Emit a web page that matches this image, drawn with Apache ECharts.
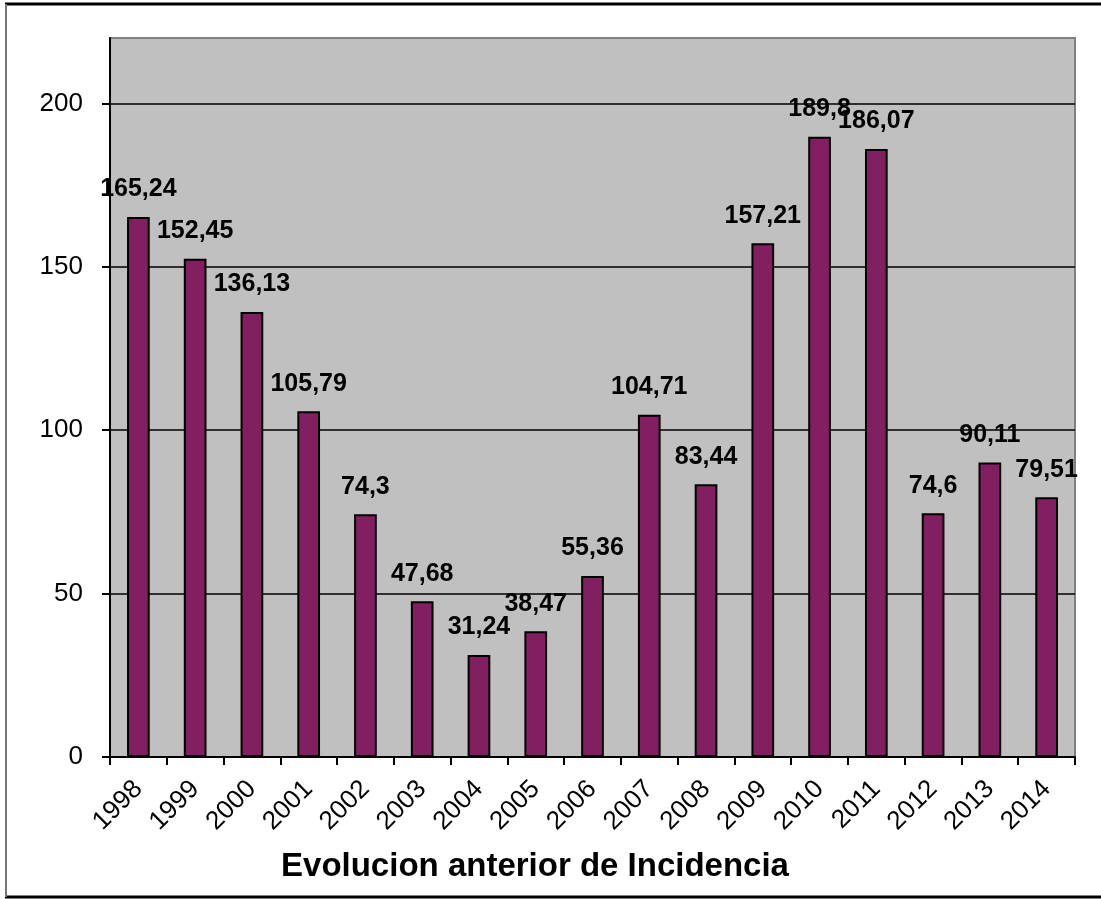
<!DOCTYPE html>
<html><head><meta charset="utf-8">
<script src="https://cdn.jsdelivr.net/npm/echarts@6/dist/echarts.min.js"></script>
<style>html,body{margin:0;padding:0;background:#fff}#c{width:1101px;height:899px}</style>
</head><body><div id="c"></div>
<script>
var categories = ['1998','1999','2000','2001','2002','2003','2004','2005','2006','2007','2008','2009','2010','2011','2012','2013','2014'];
var values = [165.24,152.45,136.13,105.79,74.3,47.68,31.24,38.47,55.36,104.71,83.44,157.21,189.8,186.07,74.6,90.11,79.51];
var valueLabels = ['165,24','152,45','136,13','105,79','74,3','47,68','31,24','38,47','55,36','104,71','83,44','157,21','189,8','186,07','74,6','90,11','79,51'];
var axisTitle = 'Evolucion anterior de Incidencia';

var FF = 'Liberation Sans, Arial, sans-serif';
var chart = echarts.init(document.getElementById('c'), null, {renderer:'canvas'});
chart.setOption({
  animation:false,
  backgroundColor:'#fff',
  textStyle:{fontFamily:FF},
  grid:{left:110, top:38, right:26, bottom:142, show:true, backgroundColor:'#c0c0c0', borderColor:'#808080', borderWidth:2},
  title:{text:axisTitle, left:530, top:845, textAlign:'center',
    textStyle:{fontFamily:FF, fontSize:33, fontWeight:'bold', color:'#000'}},
  xAxis:{type:'category', data:categories,
    axisLine:{lineStyle:{color:'#000', width:2}},
    axisTick:{show:true, length:8, lineStyle:{color:'#000', width:2}, alignWithLabel:false},
    axisLabel:{interval:0, rotate:45, fontSize:26, color:'#000', margin:28, fontFamily:FF}},
  yAxis:{type:'value', min:0, max:220, interval:50,
    axisLine:{show:true, lineStyle:{color:'#000', width:2}},
    axisTick:{show:true, length:8, lineStyle:{color:'#000', width:2}},
    axisLabel:{fontSize:26, color:'#000', margin:27, showMaxLabel:false, fontFamily:FF},
    splitLine:{show:true, lineStyle:{color:['#000','#000','#000','#000','#000','#808080'], width:1.5}}},
  series:[{type:'bar', data:values, barWidth:'40%',
    itemStyle:{color:'#821f60', borderColor:'#000', borderWidth:2},
    label:{show:true, position:'top', distance:15, fontSize:25, fontWeight:'bold', color:'#000',
      fontFamily:FF,
      formatter:function(p){return valueLabels[p.dataIndex];}}}],
  graphic:[
    {type:'line', shape:{x1:5,y1:4,x2:1101,y2:4}, style:{stroke:'#000', lineWidth:3}},
    {type:'line', shape:{x1:5,y1:897,x2:1101,y2:897}, style:{stroke:'#000', lineWidth:3}},
    {type:'line', shape:{x1:6,y1:4,x2:6,y2:897}, style:{stroke:'#777', lineWidth:2}}
  ]
});
</script></body></html>
